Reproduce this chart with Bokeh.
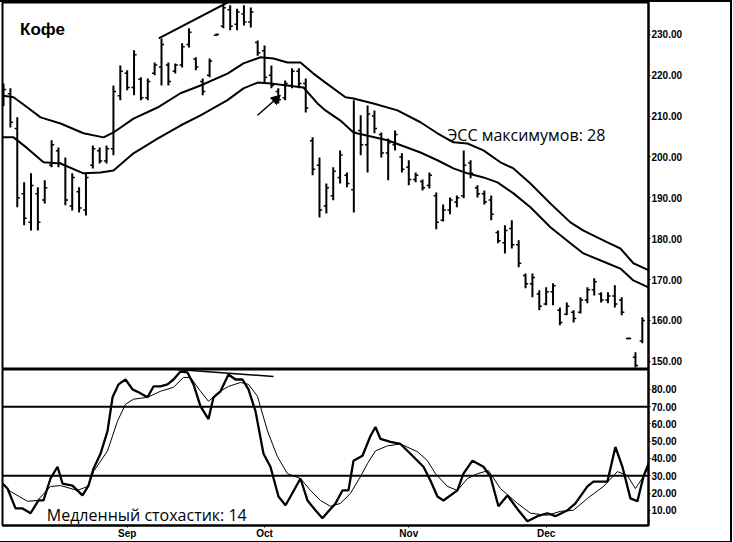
from bokeh.plotting import figure
from bokeh.models import (Range1d, FixedTicker, NumeralTickFormatter, Span, Label,
                          Arrow, NormalHead)
from bokeh.layouts import column
from bokeh.embed import file_html
from bokeh.resources import INLINE

# ---------------- data ----------------
highs = [218.0, 216.8, 209.7, 193.8, 196.0, 192.6, 194.3, 204.1, 202.3, 199.9,
         196.0, 192.6, 196.0, 202.8, 202.3, 202.8, 217.5, 222.4, 221.2, 226.1,
         219.5, 219.2, 223.1, 229.0, 223.1, 222.9, 227.8, 231.5, 224.4, 219.2,
         224.1, 230.2, 237.6, 237.1, 236.3, 237.1, 236.6, 228.5, 227.3, 222.4,
         216.8, 218.7, 221.7, 221.7, 219.2, 204.8, 199.9, 193.5, 197.5, 201.6,
         196.2, 213.9, 210.2, 212.6, 211.4, 206.0, 204.5, 206.5, 200.9, 199.2,
         196.2, 194.5, 196.2, 191.3, 188.4, 190.1, 190.6, 201.6, 199.2, 193.1,
         191.8, 190.6, 182.0, 183.3, 184.5, 179.6, 171.5, 171.5, 167.4, 168.1,
         169.1, 163.2, 164.4, 162.5, 165.7, 168.1, 170.3, 166.9, 166.9, 168.6,
         165.7, 155.8, 152.2, 160.8]
lows = [212.5, 207.2, 187.7, 183.3, 182.0, 182.0, 188.6, 197.5, 197.5, 188.2,
        186.9, 186.4, 185.7, 197.2, 198.4, 198.4, 200.4, 213.9, 216.3, 215.1,
        213.9, 213.9, 220.0, 217.5, 217.5, 220.4, 221.9, 226.8, 221.2, 215.1,
        219.5, 229.6, 231.5, 231.0, 231.0, 232.2, 231.7, 224.8, 218.2, 216.8,
        213.1, 213.9, 216.8, 216.8, 210.9, 195.5, 185.2, 186.2, 189.4, 193.5,
        192.6, 186.4, 200.4, 196.2, 205.8, 199.9, 194.3, 201.6, 196.2, 193.1,
        193.8, 191.8, 192.3, 182.3, 184.2, 186.0, 187.7, 189.9, 194.8, 190.1,
        188.4, 184.5, 178.9, 176.4, 177.6, 173.0, 167.9, 165.7, 162.5, 163.7,
        163.7, 158.8, 161.3, 159.5, 161.7, 164.2, 166.1, 164.4, 164.2, 163.2,
        161.3, 155.4, 148.5, 154.4]
opens = [214.0, 215.5, 207.0, 191.0, 184.0, 191.0, 189.5, 198.0, 201.5, 198.0,
         188.0, 191.5, 187.0, 198.0, 201.5, 199.0, 202.0, 215.0, 220.5, 217.0,
         219.0, 214.5, 220.5, 222.0, 222.5, 221.0, 222.5, 227.5, 224.0, 218.5,
         220.0, 229.8, 232.0, 236.0, 232.5, 235.0, 233.0, 228.0, 226.0, 220.0,
         216.0, 214.5, 217.5, 221.0, 218.0, 204.0, 198.0, 188.0, 190.5, 195.0,
         195.5, 192.0, 206.5, 203.0, 210.0, 205.5, 201.0, 203.0, 200.0, 197.5,
         194.5, 194.0, 193.0, 190.5, 184.5, 187.0, 189.0, 190.5, 198.5, 192.5,
         191.0, 189.5, 181.5, 179.0, 182.5, 178.5, 171.0, 169.0, 166.5, 164.0,
         167.0, 162.5, 161.5, 162.0, 162.0, 165.0, 167.5, 166.5, 165.0, 166.0,
         165.0, 155.6, 151.0, 155.0]
closes = [216.5, 208.5, 190.0, 185.0, 193.0, 184.0, 192.5, 203.0, 198.5, 189.5,
          195.0, 187.5, 195.0, 202.0, 199.0, 202.0, 216.0, 221.0, 217.0, 225.0,
          214.5, 218.5, 222.5, 227.5, 218.5, 222.5, 227.0, 230.5, 222.0, 216.0,
          223.5, 230.0, 236.5, 232.0, 235.5, 233.0, 235.5, 225.5, 219.5, 217.5,
          214.0, 218.0, 221.0, 218.0, 212.0, 197.0, 187.0, 192.5, 196.5, 200.5,
          193.5, 206.0, 203.0, 210.5, 207.0, 201.0, 203.5, 205.5, 197.0, 194.5,
          195.5, 192.5, 195.5, 184.0, 187.0, 189.5, 190.0, 198.0, 196.0, 191.0,
          189.0, 186.0, 179.5, 182.0, 178.5, 174.0, 169.0, 170.5, 163.5, 167.0,
          168.5, 159.5, 163.5, 160.5, 165.0, 167.5, 169.5, 165.0, 166.0, 164.0,
          162.0, 155.6, 149.0, 160.0]

# EMA channel of highs (28) - upper and lower lines
upper_x = [-0.44, 1.46, 3.49, 5.39, 8.30, 11.64, 14.56, 16.01, 18.92, 22.42, 25.76,
           28.68, 32.61, 34.93, 37.41, 39.30, 41.34, 43.23, 45.12, 46.87, 49.78,
           50.95, 53.86, 57.35, 60.70, 63.17, 65.50, 67.54, 69.87, 72.34, 74.24,
           76.71, 79.62, 82.53, 84.43, 87.92, 89.81, 91.70, 93.89]
upper_y = [215.1, 214.6, 212.1, 209.7, 208.2, 205.8, 204.8, 206.0, 209.4, 212.1, 215.6,
           217.5, 220.4, 222.9, 224.4, 224.1, 223.1, 223.1, 220.4, 218.2, 214.6,
           214.3, 213.1, 211.4, 208.5, 205.8, 203.6, 203.3, 201.6, 198.7, 197.2,
           193.5, 188.6, 184.0, 182.0, 179.1, 177.6, 174.0, 172.3]
lower_x = [-0.44, 1.46, 3.49, 5.82, 8.30, 11.64, 14.12, 16.01, 18.92, 22.42, 25.76,
           28.68, 32.61, 34.93, 37.0, 38.9, 43.67, 45.71, 46.87, 49.05, 50.95,
           55.90, 60.70, 63.17, 65.50, 67.54, 69.87, 71.91, 74.24, 76.71, 79.62,
           82.53, 84.43, 87.92, 89.81, 91.70, 93.89]
lower_y = [204.8, 204.8, 202.1, 198.7, 198.4, 196.0, 196.2, 196.7, 200.9, 204.5, 207.7,
           210.2, 213.9, 216.8, 218.2, 218.0, 217.0, 213.1, 211.4, 208.9, 206.0,
           204.1, 201.1, 199.2, 197.2, 196.0, 195.0, 193.8, 191.1, 187.7, 182.8,
           178.9, 176.4, 174.0, 172.7, 169.8, 168.1]

# Slow stochastic (14): %K (thick) and %D (thin)
k_x = [-0.44, 0.58, 1.75, 2.77, 3.93, 5.09, 5.82, 6.84, 7.86, 8.59, 10.04, 11.50,
       12.37, 13.10, 14.12, 15.14, 15.87, 16.74, 17.76, 18.78, 19.65, 20.96, 21.83,
       22.85, 23.87, 24.75, 25.76, 26.78, 27.66, 28.68, 29.84, 30.57, 31.59, 32.75,
       33.77, 34.79, 35.66, 36.68, 37.85, 38.86, 40.03, 41.05, 41.78, 43.23, 44.25,
       45.41, 46.43, 47.31, 48.33, 49.34, 50.22, 50.95, 52.26, 53.42, 54.15, 54.88,
       56.33, 57.79, 59.68, 61.14, 62.15, 63.17, 64.05, 66.08, 66.96, 68.27, 69.87,
       70.89, 72.05, 73.36, 74.96, 76.27, 77.73, 79.18, 80.35, 82.10, 83.26, 85.01,
       85.88, 87.92, 89.08, 90.10, 91.27, 92.29, 93.16, 94.18]
k_y = [26.6, 22.6, 11.1, 11.1, 8.3, 15.7, 15.7, 28.4, 35.2, 25.5, 24.3, 18.6,
       24.3, 34.1, 42.7, 55.9, 75.4, 82.9, 85.7, 80.0, 78.3, 75.4, 81.7,
       81.7, 82.9, 85.7, 90.3, 89.8, 82.9, 70.2, 62.8, 75.4, 78.9, 88.6,
       85.7, 85.7, 80.0, 67.4, 42.7, 35.2, 18.0, 12.9, 18.0, 28.4, 15.7,
       10.0, 5.4, 9.4, 14.0, 21.5, 21.5, 38.7, 41.6, 53.0, 58.2, 51.3,
       49.6, 48.4, 41.0, 35.2, 27.2, 18.0, 15.7, 21.5, 31.2, 38.7, 35.2,
       29.5, 12.3, 18.6, 10.0, 3.7, 6.6, 8.3, 6.6, 10.0, 14.0, 23.8,
       26.6, 26.6, 46.7, 35.2, 16.9, 15.2, 29.5, 39.8]
d_x = [-0.44, 1.02, 3.49, 4.95, 6.84, 8.30, 10.77, 12.23, 13.10, 15.14, 16.59,
       17.76, 18.92, 20.96, 22.85, 24.75, 26.20, 27.22, 28.68, 29.84, 31.30, 32.75,
       34.50, 35.66, 36.97, 38.43, 39.88, 41.34, 43.23, 44.69, 46.14, 47.60, 49.05,
       50.51, 51.97, 52.98, 54.15, 55.90, 57.79, 60.26, 61.72, 62.88, 64.63, 66.08,
       67.54, 69.00, 70.60, 72.34, 74.82, 76.71, 79.18, 81.08, 82.97, 85.01, 87.34,
       89.37, 90.83, 92.00, 93.16, 94.18]
d_y = [26.6, 20.9, 15.2, 15.7, 23.8, 24.3, 21.5, 23.8, 32.4, 44.4, 61.6,
       71.4, 74.3, 75.4, 78.9, 81.2, 86.9, 86.9, 78.9, 73.1, 78.3, 81.7,
       84.0, 82.9, 76.0, 55.9, 41.0, 31.2, 28.4, 21.5, 15.7, 12.3, 14.0,
       19.8, 29.5, 37.0, 44.4, 47.3, 48.4, 43.9, 38.7, 31.2, 23.8, 21.5,
       28.4, 31.2, 33.0, 22.6, 14.0, 8.3, 7.1, 9.4, 10.0, 16.9, 23.8,
       32.4, 30.1, 22.6, 29.5, 37.0]

# hand-drawn annotations from the original
trend_x = [22.6, 32.6]
trend_y = [229.0, 237.8]
div_x = [25.3, 39.3]
div_y = [91.5, 87.5]
arrow_from = (36.97, 210.2)
arrow_to = (40.3, 215.1)

price_ticks = [150, 160, 170, 180, 190, 200, 210, 220, 230]
stoch_ticks = [10, 20, 30, 40, 50, 60, 70, 80]
stoch_levels = [30, 70]
month_ticks = [18, 38, 59, 79]
month_labels = ["Sep", "Oct", "Nov", "Dec"]

# ---------------- drawing ----------------
idx = list(range(len(highs)))
TICK = 0.38
FONT = "Liberation Sans"


def style_axis(ax):
    ax.major_label_text_font = FONT
    ax.major_label_text_font_style = "bold"
    ax.major_label_text_font_size = "10px"
    ax.major_label_text_color = "black"
    ax.major_tick_in = 0
    ax.major_tick_out = 2
    ax.minor_tick_out = 0
    ax.minor_tick_in = 0
    ax.axis_line_width = 2
    ax.axis_line_color = "black"
    ax.major_tick_line_color = "black"
    ax.major_label_standoff = 1


x_rng = Range1d(-0.15, 93.9)

p = figure(frame_width=646, frame_height=367, x_range=x_rng,
           y_range=Range1d(148.0, 237.8), y_axis_location="right",
           x_axis_location=None, output_backend="svg", toolbar_location=None,
           min_border_left=2, min_border_top=0, min_border_bottom=0,
           min_border_right=82)
p.grid.visible = False
p.outline_line_color = "black"
p.outline_line_width = 2

p.segment(x0=idx, y0=lows, x1=idx, y1=highs, line_color="black", line_width=2)
p.segment(x0=[i - TICK for i in idx], y0=opens, x1=idx, y1=opens,
          line_color="black", line_width=1.5)
p.segment(x0=idx, y0=closes, x1=[i + TICK for i in idx], y1=closes,
          line_color="black", line_width=1.5)

p.line(upper_x, upper_y, line_color="black", line_width=2)
p.line(lower_x, lower_y, line_color="black", line_width=2)
p.line(trend_x, trend_y, line_color="black", line_width=2)
p.add_layout(Arrow(end=NormalHead(size=9, fill_color="black", line_color="black"),
                   x_start=arrow_from[0], y_start=arrow_from[1],
                   x_end=arrow_to[0], y_end=arrow_to[1],
                   line_color="black", line_width=1.5))

p.add_layout(Label(x=2.4, y=231.2, text="Кофе", text_font=FONT,
                   text_font_style="bold", text_font_size="17px",
                   text_color="black", text_baseline="alphabetic"))
p.add_layout(Label(x=64.6, y=205.3, text="ЭСС максимумов: 28", text_font="Open Sans",
                   text_font_size="16px", text_color="black",
                   text_baseline="alphabetic"))

ya = p.yaxis[0]
ya.ticker = FixedTicker(ticks=price_ticks)
ya.formatter = NumeralTickFormatter(format="0.00")
style_axis(ya)

q = figure(frame_width=646, frame_height=156, x_range=x_rng,
           y_range=Range1d(1.2, 91.5), y_axis_location="right",
           output_backend="svg", toolbar_location=None,
           min_border_left=2, min_border_top=0, min_border_bottom=0,
           min_border_right=82)
q.grid.visible = False
q.outline_line_color = "black"
q.outline_line_width = 2

for lv in stoch_levels:
    q.add_layout(Span(location=lv, dimension="width", line_color="black", line_width=2))

q.line(d_x, d_y, line_color="black", line_width=1)
q.line(k_x, k_y, line_color="black", line_width=2.3)
q.line(div_x, div_y, line_color="black", line_width=1.5)

q.add_layout(Label(x=6.3, y=7.5, text="Медленный стохастик: 14", text_font="Open Sans",
                   text_font_size="16px", text_color="black",
                   text_baseline="alphabetic"))

qa = q.yaxis[0]
qa.ticker = FixedTicker(ticks=stoch_ticks)
qa.formatter = NumeralTickFormatter(format="0.00")
style_axis(qa)

xa = q.xaxis[0]
xa.ticker = FixedTicker(ticks=month_ticks)
xa.major_label_overrides = {t: lab for t, lab in zip(month_ticks, month_labels)}
style_axis(xa)
xa.major_label_standoff = 0

layout = column(p, q, spacing=0,
                styles={"border-top": "2px solid black", "border-right": "2px solid black",
                        "border-bottom": "2px solid black"})

open("out.html", "w").write(file_html(layout, INLINE))
